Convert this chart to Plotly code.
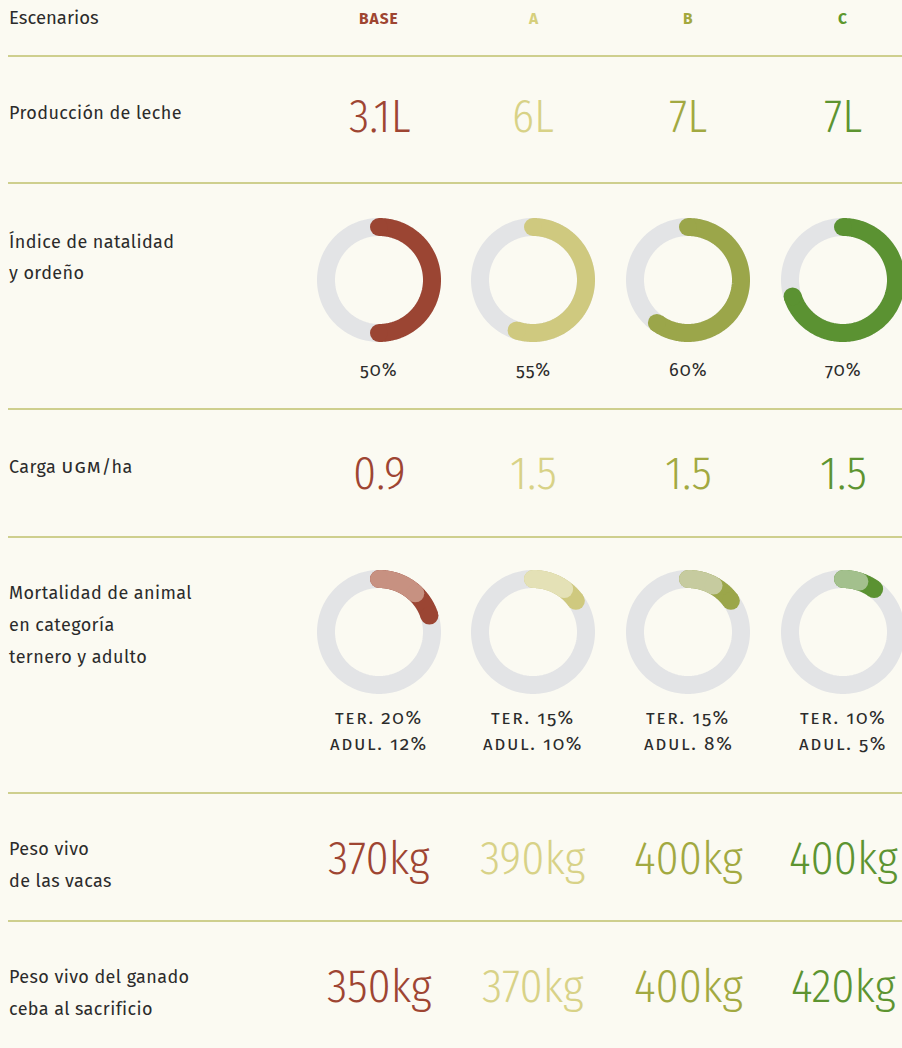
import numpy as np
import plotly.graph_objects as go

# ---------------- data ----------------
scenarios = ["BASE", "A", "B", "C"]
row_labels = [
    ["Producción de leche"],
    ["Índice de natalidad", "y ordeño"],
    ["Carga <span style='font-variant-caps:all-small-caps;font-size:20px;letter-spacing:1px'>UGM</span>/ha"],
    ["Mortalidad de animal", "en categoría", "ternero y adulto"],
    ["Peso vivo", "de las vacas"],
    ["Peso vivo del ganado", "ceba al sacrificio"],
]
leche = ["3.1L", "6L", "7L", "7L"]
natalidad = [50, 55, 60, 70]
carga = ["0.9", "1.5", "1.5", "1.5"]
mort_ternero = [20, 15, 15, 10]
mort_adulto = [12, 10, 8, 5]
peso_vacas = ["370kg", "390kg", "400kg", "400kg"]
peso_ceba = ["350kg", "370kg", "400kg", "420kg"]

# ---------------- style ----------------
W, H = 902, 1048
BG = "#fbfaf2"
TXT = "#2b2b2b"
RULE = "#bfc06c"
GRAY = "#e3e4e6"
col_x = [379, 533, 688, 843]
head_col = ["#9e4531", "#d6cf7c", "#a3a83d", "#5e982f"]
num_col = ["#9e4532", "#d8d287", "#a2a941", "#5d9431"]
arc_col = ["#9b4533", "#cfc97f", "#9ba64a", "#5b9232"]
arc_light = ["#c79181", "#e4e1b6", "#c6cb9f", "#a3c08d"]
LABEL_FONT = "Fira Sans, Open Sans, sans-serif"
NUM_FONT = "Fira Sans Condensed, Fira Sans, Liberation Sans Narrow, Roboto, sans-serif"
OLD = "font-variant-numeric:oldstyle-nums;font-feature-settings:'onum' 1;"
SC = "font-variant-caps:all-small-caps;"

R = 53      # ring centre radius (px)
RW = 18     # ring thickness (px)

fig = go.Figure()


def arc(cx, cy, pct, color, cap=True):
    t = np.linspace(0, 2 * np.pi * pct / 100.0, 240)
    xs = cx + R * np.sin(t)
    ys = cy - R * np.cos(t)
    fig.add_trace(go.Scatter(x=xs, y=ys, mode="lines",
                             line=dict(color=color, width=RW, simplify=False),
                             hoverinfo="skip", showlegend=False))
    if cap:
        fig.add_trace(go.Scatter(x=[xs[0], xs[-1]], y=[ys[0], ys[-1]], mode="markers",
                                 marker=dict(color=color, size=RW, line=dict(width=0)),
                                 hoverinfo="skip", showlegend=False))


ann = []


def text(x, y, s, size, color=TXT, xanchor="center", family=LABEL_FONT, weight=None):
    f = dict(family=family, size=size, color=color)
    if weight:
        f["weight"] = weight
    ann.append(dict(x=x, y=y, xref="x", yref="y", text=s, showarrow=False,
                    xanchor=xanchor, yanchor="middle", font=f))


# header
text(7, 18, "Escenarios", 18.5, xanchor="left")
for i, s in enumerate(scenarios):
    text(col_x[i], 19, "<span style='letter-spacing:1px'>" + s + "</span>", 15.5,
         color=head_col[i], weight=700)

# rules
shapes = []
for yy in [56, 183, 409, 537, 793, 921]:
    shapes.append(dict(type="line", xref="x", yref="y", x0=8, x1=W, y0=yy, y1=yy,
                       line=dict(color=RULE, width=1.6), layer="below"))

# row labels
label_y = [[113], [241, 273], [466], [593, 625, 657], [849, 881], [977, 1009]]
for lines, ys in zip(row_labels, label_y):
    for s, yy in zip(lines, ys):
        text(7, yy, "<span style='letter-spacing:0.4px'>" + s + "</span>", 18, xanchor="left")

# row 1: leche
for i, v in enumerate(leche):
    text(col_x[i], 116, v, 46, color=num_col[i], family=NUM_FONT, weight=300)

# row 2: natalidad donuts
for i, p in enumerate(natalidad):
    arc(col_x[i], 280, 100, GRAY, cap=False)
    arc(col_x[i], 280, p, arc_col[i])
    text(col_x[i], 370, "<span style=\"letter-spacing:1px;" + OLD + "\">%d%%</span>" % p, 18)

# row 3: carga
for i, v in enumerate(carga):
    text(col_x[i], 473, v, 46, color=num_col[i], family=NUM_FONT, weight=300)

# row 4: mortalidad donuts
for i in range(4):
    arc(col_x[i], 632, 100, GRAY, cap=False)
    arc(col_x[i], 632, mort_ternero[i], arc_col[i])
    arc(col_x[i], 632, mort_adulto[i], arc_light[i])
    text(col_x[i], 717, "<span style=\"letter-spacing:1.6px;" + SC + OLD + "\">TER. %d%%</span>" % mort_ternero[i], 19)
    text(col_x[i], 743, "<span style=\"letter-spacing:1.6px;" + SC + OLD + "\">ADUL. %d%%</span>" % mort_adulto[i], 19)

# row 5 / 6: pesos
for i, v in enumerate(peso_vacas):
    text(col_x[i], 858, v, 46, color=num_col[i], family=NUM_FONT, weight=300)
for i, v in enumerate(peso_ceba):
    text(col_x[i], 986, v, 46, color=num_col[i], family=NUM_FONT, weight=300)

fig.update_layout(
    width=W, height=H, margin=dict(l=0, r=0, t=0, b=0),
    paper_bgcolor=BG, plot_bgcolor=BG,
    xaxis=dict(range=[0, W], visible=False, fixedrange=True),
    yaxis=dict(range=[H, 0], visible=False, fixedrange=True),
    annotations=ann, shapes=shapes, showlegend=False,
)
fig.write_html("out.html", config={"displayModeBar": False},
               post_script="document.body.style.margin='0';document.body.style.background='" + BG + "';")
